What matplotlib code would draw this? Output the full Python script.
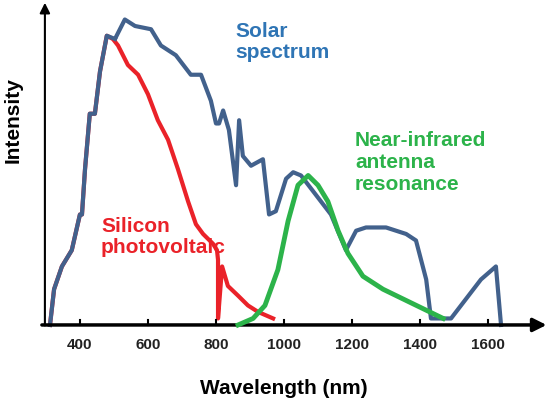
import numpy as np
import matplotlib.pyplot as plt

plt.rcParams['font.family'] = ['Liberation Sans', 'DejaVu Sans']

# values: wavelength (nm) and relative intensity
solar_nm = [312, 324, 347, 376, 400, 406, 415, 429, 444, 459, 479, 503, 532,
            562, 609, 638, 682, 726, 756, 785, 800, 809, 821, 838, 859, 868,
            879, 903, 938, 956, 976, 1006, 1027, 1050, 1094, 1138, 1182, 1212,
            1241, 1300, 1359, 1388, 1418, 1432, 1491, 1535, 1579, 1623, 1638]
solar_i = [0, 11, 18, 23, 34, 34, 48, 65, 65, 78, 89, 88, 94,
           92, 91, 86, 83, 77, 77, 69, 62, 62, 66, 60, 43, 63,
           52, 49, 51, 34, 35, 45, 47, 46, 40, 34, 23, 29,
           30, 30, 28, 26, 14, 2, 2, 8, 14, 18, 0]

pv_nm = [312, 324, 347, 376, 400, 406, 415, 429, 444, 459, 479, 497, 512,
         541, 571, 600, 629, 659, 688, 718, 741, 762, 791, 803, 806, 806,
         818, 835, 865, 894, 924, 968]
pv_i = [0, 11, 18, 23, 34, 34, 48, 65, 65, 78, 89, 88, 86,
        80, 77, 71, 63, 57, 48, 38, 31, 28, 25, 23, 20, 2,
        18, 12, 9, 6, 4, 2]

nir_nm = [865, 909, 944, 982, 1012, 1041, 1071, 1100, 1129, 1159, 1188,
          1232, 1291, 1350, 1409, 1468]
nir_i = [0, 2, 6, 17, 32, 43, 46, 43, 38, 29, 22, 15, 11, 8, 5, 2]

ticks = [400, 600, 800, 1000, 1200, 1400, 1600]

fig = plt.figure(figsize=(5.5, 4.01), dpi=100)
ax = fig.add_axes([0, 0, 1, 1])
ax.set_xlim(165, 1782)
ax.set_ylim(-23.4, 100)
ax.axis('off')

# photovoltaic under the solar curve so the shared rise shows blue
ax.plot(pv_nm, pv_i, color='#ea2229', lw=3, solid_joinstyle='round')
ax.plot(solar_nm[:12], solar_i[:12], color='#42618c', lw=3,
        solid_joinstyle='round', zorder=3)
ax.plot(solar_nm[11:], solar_i[11:], color='#42618c', lw=3,
        solid_joinstyle='round', zorder=1)
ax.plot(nir_nm, nir_i, color='#2cb34a', lw=3.5, solid_joinstyle='round',
        zorder=4)

# axes with arrows
ax.annotate('', xy=(1780, 0), xytext=(280, 0),
            arrowprops=dict(arrowstyle='-|>', color='black', lw=2.5,
                            mutation_scale=20))
ax.annotate('', xy=(297, 100), xytext=(297, -1),
            arrowprops=dict(arrowstyle='-|>', color='black', lw=1.5,
                            mutation_scale=15))
for t in ticks:
    ax.plot([t, t], [0, 1.5], color='black', lw=1.5)
    ax.text(t, -4, str(t), ha='center', va='top', fontsize=11,
            fontweight='bold', color='#222222')

ax.text(1000, -16.5, 'Wavelength (nm)', ha='center', va='top', fontsize=15,
        fontweight='bold')
ax.text(205, 63, 'Intensity', rotation=90, ha='center', va='center',
        fontsize=15, fontweight='bold')

ax.text(856, 87, 'Solar\nspectrum', color='#2f75b5', fontsize=15,
        fontweight='bold', ha='left', va='center', linespacing=1.15)
ax.text(462, 27, 'Silicon\nphotovoltaic', color='#ea2229', fontsize=15,
        fontweight='bold', ha='left', va='center', linespacing=1.15)
ax.text(1209, 50, 'Near-infrared\nantenna\nresonance', color='#2cb34a',
        fontsize=15, fontweight='bold', ha='left', va='center',
        linespacing=1.2)

fig.savefig('out.png', dpi=100)
